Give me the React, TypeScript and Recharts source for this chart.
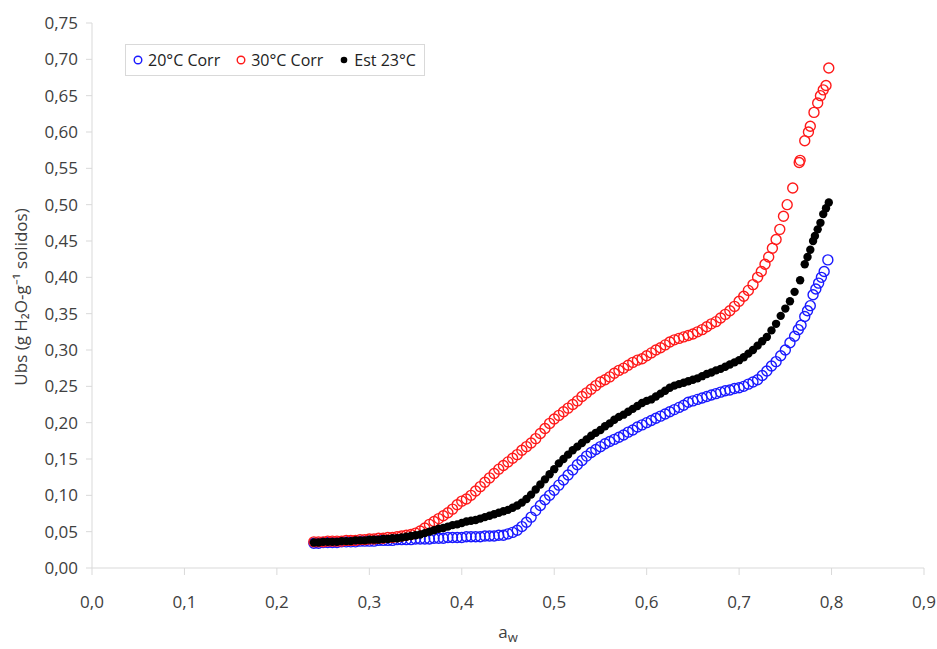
import { Scatter, ScatterChart, XAxis, YAxis } from 'recharts';

// water activity / moisture pairs
const corr20: [number, number][] = [
  [0.240, 0.034], [0.245, 0.034], [0.250, 0.035], [0.255, 0.035], [0.260, 0.035], [0.265, 0.035],
  [0.270, 0.036], [0.275, 0.036], [0.280, 0.036], [0.285, 0.036], [0.290, 0.037], [0.295, 0.037],
  [0.300, 0.037], [0.305, 0.037], [0.310, 0.038], [0.315, 0.038], [0.320, 0.038], [0.325, 0.038],
  [0.330, 0.039], [0.335, 0.039], [0.340, 0.039], [0.345, 0.039], [0.350, 0.040], [0.355, 0.040],
  [0.360, 0.040], [0.365, 0.040], [0.370, 0.041], [0.375, 0.041], [0.380, 0.041], [0.385, 0.042],
  [0.390, 0.042], [0.395, 0.042], [0.400, 0.042], [0.405, 0.043], [0.410, 0.043], [0.415, 0.043],
  [0.420, 0.043], [0.425, 0.044], [0.430, 0.044], [0.435, 0.044], [0.440, 0.045], [0.445, 0.045],
  [0.450, 0.047], [0.455, 0.049], [0.460, 0.052], [0.465, 0.057], [0.470, 0.063], [0.475, 0.070],
  [0.480, 0.079], [0.485, 0.086], [0.490, 0.094], [0.495, 0.100], [0.500, 0.107], [0.505, 0.114],
  [0.510, 0.121], [0.515, 0.128], [0.520, 0.135], [0.525, 0.142], [0.530, 0.148], [0.535, 0.154],
  [0.540, 0.159], [0.545, 0.163], [0.550, 0.167], [0.555, 0.171], [0.560, 0.174], [0.565, 0.177],
  [0.570, 0.180], [0.575, 0.183], [0.580, 0.187], [0.585, 0.190], [0.590, 0.194], [0.595, 0.197],
  [0.600, 0.200], [0.605, 0.203], [0.610, 0.206], [0.615, 0.209], [0.620, 0.212], [0.625, 0.215],
  [0.630, 0.218], [0.635, 0.221], [0.640, 0.224], [0.645, 0.228], [0.650, 0.230], [0.655, 0.232],
  [0.660, 0.234], [0.665, 0.236], [0.670, 0.238], [0.675, 0.240], [0.680, 0.242], [0.685, 0.244],
  [0.690, 0.245], [0.695, 0.247], [0.700, 0.248], [0.705, 0.250], [0.710, 0.253], [0.715, 0.256],
  [0.720, 0.259], [0.725, 0.265], [0.730, 0.271], [0.735, 0.278], [0.740, 0.284], [0.745, 0.292],
  [0.750, 0.300], [0.755, 0.310], [0.760, 0.319], [0.764, 0.328], [0.767, 0.334], [0.771, 0.346],
  [0.774, 0.354], [0.777, 0.361], [0.780, 0.376], [0.783, 0.384], [0.786, 0.392], [0.789, 0.400],
  [0.792, 0.408], [0.796, 0.424],
];

const corr30: [number, number][] = [
  [0.240, 0.036], [0.245, 0.036], [0.250, 0.036], [0.255, 0.037], [0.260, 0.037], [0.265, 0.037],
  [0.270, 0.037], [0.275, 0.038], [0.280, 0.038], [0.285, 0.038], [0.290, 0.039], [0.295, 0.039],
  [0.300, 0.040], [0.305, 0.040], [0.310, 0.041], [0.315, 0.041], [0.320, 0.042], [0.325, 0.042],
  [0.330, 0.043], [0.335, 0.044], [0.340, 0.045], [0.345, 0.046], [0.350, 0.048], [0.355, 0.051],
  [0.360, 0.055], [0.365, 0.060], [0.370, 0.064], [0.375, 0.068], [0.380, 0.072], [0.385, 0.076],
  [0.390, 0.081], [0.395, 0.087], [0.400, 0.092], [0.405, 0.095], [0.410, 0.100], [0.415, 0.106],
  [0.420, 0.112], [0.425, 0.118], [0.430, 0.124], [0.435, 0.130], [0.440, 0.136], [0.445, 0.141],
  [0.450, 0.146], [0.455, 0.151], [0.460, 0.156], [0.465, 0.162], [0.470, 0.167], [0.475, 0.172],
  [0.480, 0.178], [0.485, 0.185], [0.490, 0.192], [0.495, 0.199], [0.500, 0.205], [0.505, 0.210],
  [0.510, 0.215], [0.515, 0.220], [0.520, 0.225], [0.525, 0.230], [0.530, 0.236], [0.535, 0.241],
  [0.540, 0.246], [0.545, 0.251], [0.550, 0.256], [0.555, 0.259], [0.560, 0.263], [0.565, 0.268],
  [0.570, 0.272], [0.575, 0.275], [0.580, 0.279], [0.585, 0.283], [0.590, 0.286], [0.595, 0.288],
  [0.600, 0.292], [0.605, 0.296], [0.610, 0.300], [0.615, 0.303], [0.620, 0.307], [0.625, 0.311],
  [0.630, 0.314], [0.635, 0.316], [0.640, 0.318], [0.645, 0.320], [0.650, 0.322], [0.655, 0.325],
  [0.660, 0.328], [0.665, 0.332], [0.670, 0.336], [0.675, 0.339], [0.680, 0.344], [0.685, 0.349],
  [0.690, 0.354], [0.695, 0.360], [0.700, 0.367], [0.705, 0.374], [0.710, 0.382], [0.715, 0.390],
  [0.720, 0.400], [0.724, 0.408], [0.728, 0.418], [0.732, 0.428], [0.736, 0.440], [0.740, 0.452],
  [0.744, 0.466], [0.748, 0.484], [0.752, 0.500], [0.758, 0.523], [0.765, 0.558], [0.766, 0.561],
  [0.771, 0.588], [0.775, 0.600], [0.777, 0.608], [0.781, 0.627], [0.785, 0.640], [0.788, 0.650],
  [0.791, 0.658], [0.794, 0.664], [0.797, 0.688],
];

const est23: [number, number][] = [
  [0.240, 0.035], [0.245, 0.035], [0.250, 0.036], [0.255, 0.036], [0.260, 0.036], [0.265, 0.036],
  [0.270, 0.037], [0.275, 0.037], [0.280, 0.037], [0.285, 0.038], [0.290, 0.038], [0.295, 0.038],
  [0.300, 0.039], [0.305, 0.039], [0.310, 0.039], [0.315, 0.040], [0.320, 0.040], [0.325, 0.041],
  [0.330, 0.041], [0.335, 0.042], [0.340, 0.043], [0.345, 0.044], [0.350, 0.045], [0.355, 0.046],
  [0.360, 0.048], [0.365, 0.050], [0.370, 0.052], [0.375, 0.054], [0.380, 0.055], [0.385, 0.057],
  [0.390, 0.059], [0.395, 0.060], [0.400, 0.062], [0.405, 0.064], [0.410, 0.065], [0.415, 0.066],
  [0.420, 0.068], [0.425, 0.070], [0.430, 0.072], [0.435, 0.074], [0.440, 0.076], [0.445, 0.078],
  [0.450, 0.080], [0.455, 0.083], [0.460, 0.086], [0.465, 0.090], [0.470, 0.095], [0.475, 0.101],
  [0.480, 0.108], [0.485, 0.115], [0.490, 0.122], [0.495, 0.129], [0.500, 0.136], [0.505, 0.144],
  [0.510, 0.150], [0.515, 0.156], [0.520, 0.162], [0.525, 0.167], [0.530, 0.172], [0.535, 0.177],
  [0.540, 0.182], [0.545, 0.186], [0.550, 0.190], [0.555, 0.195], [0.560, 0.199], [0.565, 0.204],
  [0.570, 0.208], [0.575, 0.211], [0.580, 0.215], [0.585, 0.219], [0.590, 0.223], [0.595, 0.227],
  [0.600, 0.230], [0.605, 0.232], [0.610, 0.236], [0.615, 0.240], [0.620, 0.244], [0.625, 0.248],
  [0.630, 0.251], [0.635, 0.253], [0.640, 0.255], [0.645, 0.257], [0.650, 0.259], [0.655, 0.261],
  [0.660, 0.264], [0.665, 0.267], [0.670, 0.269], [0.675, 0.272], [0.680, 0.274], [0.685, 0.277],
  [0.690, 0.280], [0.695, 0.283], [0.700, 0.286], [0.705, 0.290], [0.710, 0.295], [0.715, 0.300],
  [0.720, 0.306], [0.725, 0.312], [0.730, 0.318], [0.735, 0.327], [0.740, 0.336], [0.745, 0.347],
  [0.750, 0.357], [0.755, 0.367], [0.760, 0.380], [0.766, 0.396], [0.771, 0.418], [0.774, 0.428],
  [0.777, 0.438], [0.780, 0.450], [0.782, 0.457], [0.785, 0.466], [0.788, 0.475], [0.791, 0.487],
  [0.794, 0.495], [0.797, 0.503],
];

const xTicks = [0, 0.1, 0.2, 0.3, 0.4, 0.5, 0.6, 0.7, 0.8, 0.9];
const yTicks = [0, 0.05, 0.1, 0.15, 0.2, 0.25, 0.3, 0.35, 0.4, 0.45, 0.5, 0.55, 0.6, 0.65, 0.7, 0.75];

const seriesNames = ['20°C Corr', '30°C Corr', 'Est 23°C'];
const seriesColors = ['#1a1aff', '#ff1a1a', '#000000'];

const FONT = '"Open Sans", sans-serif';
const AXIS_GREY = '#d9d9d9';
const TEXT_GREY = '#404040';

const toPoints = (rows: [number, number][]) => rows.map(([aw, ubs]) => ({ aw, ubs }));

const Ring = (color: string) => (props: any) => (
  <circle cx={props.cx} cy={props.cy} r={5} fill="none" stroke={color} strokeWidth={1.4} />
);
const Dot = (props: any) => <circle cx={props.cx} cy={props.cy} r={4.2} fill="#000" />;

const comma = (digits: number) => (v: number) => v.toFixed(digits).replace('.', ',');

function LegendBox() {
  return (
    <div
      style={{
        position: 'absolute',
        left: 125,
        top: 44,
        display: 'flex',
        alignItems: 'center',
        gap: 16,
        border: `1px solid ${AXIS_GREY}`,
        padding: '5px 8px 5px 7px',
        background: '#fff',
        fontFamily: FONT,
        fontSize: 16,
        lineHeight: '20px',
        color: '#222',
      }}
    >
      {seriesNames.map((name, i) => (
        <span key={name} style={{ display: 'flex', alignItems: 'center', gap: 5 }}>
          <svg width={10} height={10}>
            {i < 2 ? (
              <circle cx={5} cy={5} r={3.8} fill="none" stroke={seriesColors[i]} strokeWidth={1.4} />
            ) : (
              <circle cx={5} cy={5} r={3.3} fill="#000" />
            )}
          </svg>
          {name}
        </span>
      ))}
    </div>
  );
}

function YLabel() {
  return (
    <text
      x={20}
      y={297}
      transform="rotate(-90 20 297)"
      textAnchor="middle"
      dominantBaseline="central"
      fontFamily={FONT}
      fontSize={17}
      fill={TEXT_GREY}
    >
      Ubs (g H₂O-g⁻¹ solidos)
    </text>
  );
}

function XLabel() {
  return (
    <text x={508} y={638} textAnchor="middle" fontFamily={FONT} fontSize={17} fill={TEXT_GREY}>
      a
      <tspan dy={4} fontSize={13}>w</tspan>
    </text>
  );
}

export default function App() {
  return (
    <div style={{ position: 'absolute', left: 0, top: 0, width: 937, height: 649, background: '#fff' }}>
      <ScatterChart width={937} height={649} margin={{ top: 23, right: 13, bottom: 51, left: 0 }}>
        <XAxis
          type="number"
          dataKey="aw"
          domain={[0, 0.9]}
          ticks={xTicks}
          tickFormatter={comma(1)}
          height={30}
          stroke={AXIS_GREY}
          tickSize={7}
          tickMargin={21}
          tick={{ fill: TEXT_GREY, fontFamily: FONT, fontSize: 17 }}
          label={<XLabel />}
        />
        <YAxis
          type="number"
          dataKey="ubs"
          domain={[0, 0.75]}
          ticks={yTicks}
          tickFormatter={comma(2)}
          width={92}
          stroke={AXIS_GREY}
          tickSize={6}
          tickMargin={8}
          tick={{ fill: TEXT_GREY, fontFamily: FONT, fontSize: 17 }}
          label={<YLabel />}
        />
        <Scatter name={seriesNames[0]} data={toPoints(corr20)} shape={Ring(seriesColors[0])} isAnimationActive={false} />
        <Scatter name={seriesNames[1]} data={toPoints(corr30)} shape={Ring(seriesColors[1])} isAnimationActive={false} />
        <Scatter name={seriesNames[2]} data={toPoints(est23)} shape={Dot} isAnimationActive={false} />
      </ScatterChart>
      <LegendBox />
    </div>
  );
}
